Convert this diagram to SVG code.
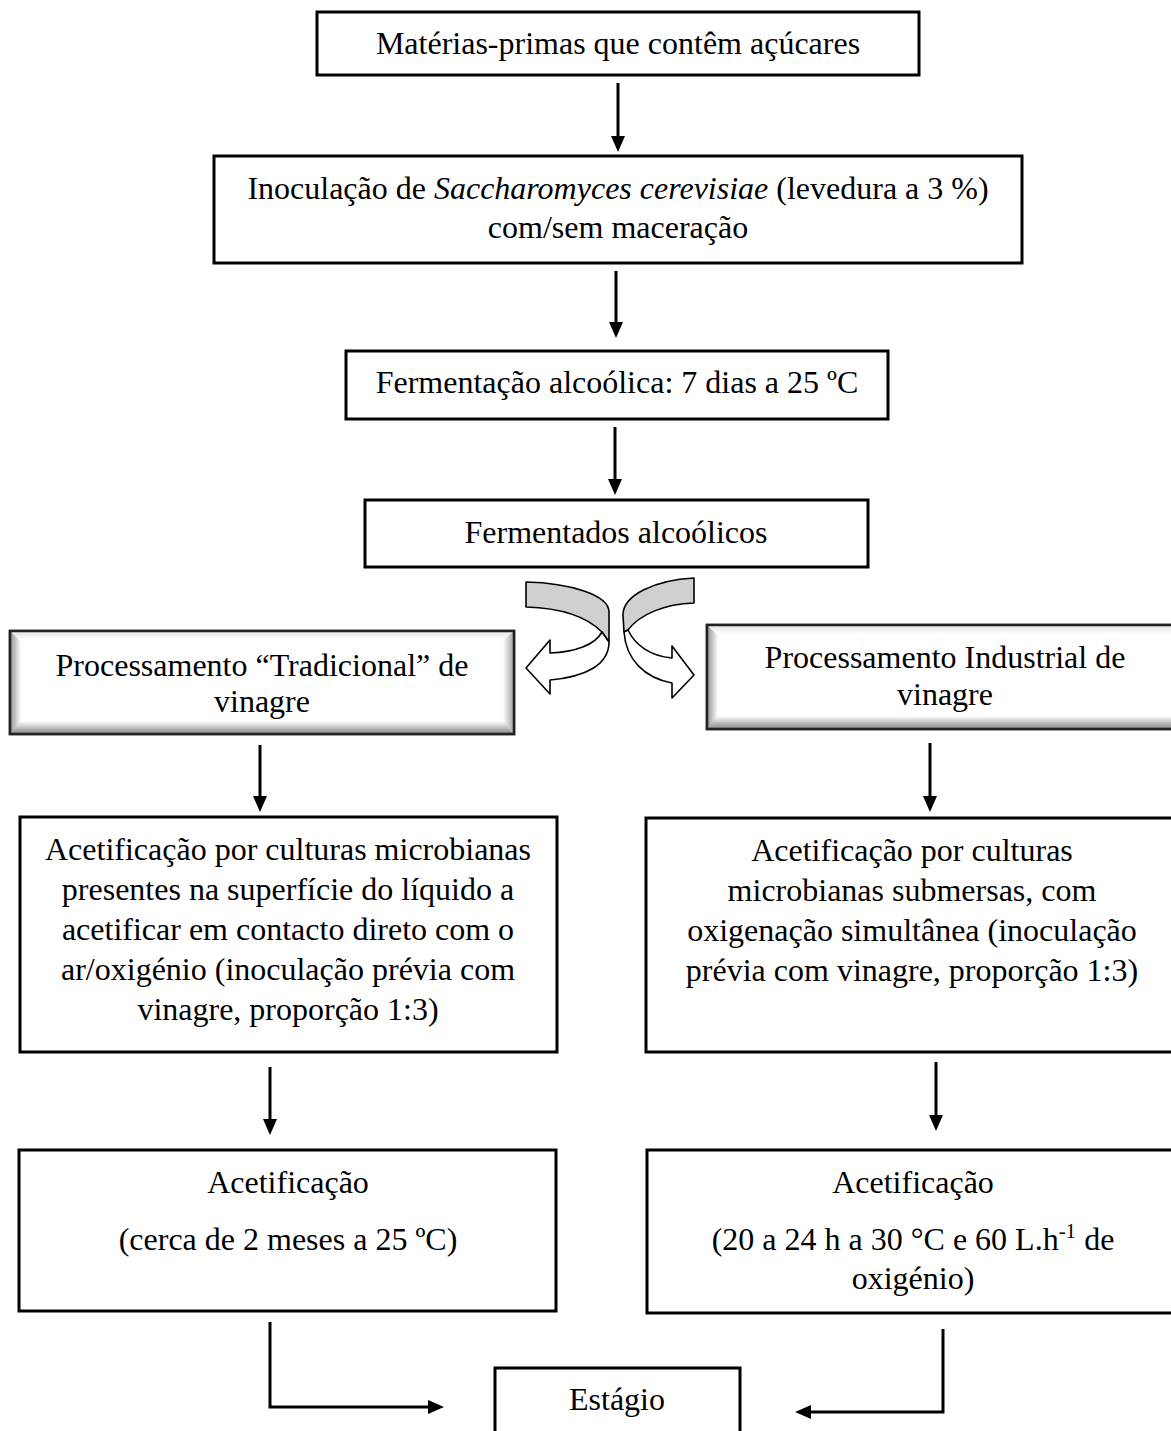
<svg xmlns="http://www.w3.org/2000/svg" width="1171" height="1431" viewBox="0 0 1171 1431">
<style>
.box{fill:#fff;stroke:#000;stroke-width:3}
.t{font-family:"Liberation Serif","Times New Roman",serif;font-size:32px;fill:#000;text-anchor:middle}
.ln{fill:none;stroke:#000;stroke-width:3}
.ca{stroke:#000;stroke-width:1.6;stroke-linejoin:round}
.bev{fill:#fff;stroke:#222;stroke-width:2.5}
</style>
<defs>
<marker id="ah" markerUnits="userSpaceOnUse" markerWidth="16" markerHeight="14" viewBox="0 0 16 14" refX="0" refY="7" orient="auto">
<path d="M0,0 L16,7 L0,14 Z" fill="#000"/>
</marker>
<linearGradient id="gL" x1="0" y1="0" x2="1" y2="0"><stop offset="0" stop-color="#9a9a9a"/><stop offset="1" stop-color="#fff"/></linearGradient>
<linearGradient id="gR" x1="0" y1="0" x2="1" y2="0"><stop offset="0" stop-color="#fff"/><stop offset="1" stop-color="#a8a8a8"/></linearGradient>
<linearGradient id="gB" x1="0" y1="0" x2="0" y2="1"><stop offset="0" stop-color="#fff"/><stop offset="1" stop-color="#8e8e8e"/></linearGradient>
<linearGradient id="gT" x1="0" y1="0" x2="0" y2="1"><stop offset="0" stop-color="#e6e6e6"/><stop offset="1" stop-color="#fff"/></linearGradient>
</defs>
<rect width="1171" height="1431" fill="#fff"/>

<g id="n1">
<rect class="box" x="317" y="12" width="602" height="63"/>
<text class="t" x="618" y="54">Matérias-primas que contêm açúcares</text>
</g>
<g id="n2">
<rect class="box" x="214" y="156" width="808" height="107"/>
<text class="t" x="618" y="199">Inoculação de <tspan font-style="italic">Saccharomyces cerevisiae</tspan> (levedura a 3 %)</text>
<text class="t" x="618" y="238">com/sem maceração</text>
</g>
<g id="n3">
<rect class="box" x="346" y="351" width="542" height="68"/>
<text class="t" x="617" y="393">Fermentação alcoólica: 7 dias a 25 ºC</text>
</g>
<g id="n4">
<rect class="box" x="365" y="500" width="503" height="67"/>
<text class="t" x="616" y="543">Fermentados alcoólicos</text>
</g>
<g id="n5">
<rect class="bev" x="10" y="631" width="504" height="103"/>
<polygon points="11,632 21,641 21,724 11,733" fill="url(#gL)"/>
<polygon points="11,632 513,632 503,640 21,640" fill="url(#gT)"/>
<polygon points="513,632 513,733 503,723 503,640" fill="url(#gR)"/>
<polygon points="11,733 21,721 503,721 513,733" fill="url(#gB)"/>
<rect x="10" y="631" width="504" height="103" fill="none" stroke="#222" stroke-width="2.5"/>
<text class="t" x="262" y="676">Processamento “Tradicional” de</text>
<text class="t" x="262" y="712">vinagre</text>
</g>
<g id="n6">
<rect class="bev" x="707" y="625" width="480" height="104"/>
<polygon points="708,626 718,635 718,718 708,728" fill="url(#gL)"/>
<polygon points="708,626 1186,626 1176,634 718,634" fill="url(#gT)"/>
<polygon points="708,728 718,716 1176,716 1186,728" fill="url(#gB)"/>
<rect x="707" y="625" width="480" height="104" fill="none" stroke="#222" stroke-width="2.5"/>
<text class="t" x="945" y="668">Processamento Industrial de</text>
<text class="t" x="945" y="705">vinagre</text>
</g>
<g id="n7">
<rect class="box" x="20" y="817" width="537" height="235"/>
<text class="t" x="288" y="860">Acetificação por culturas microbianas</text>
<text class="t" x="288" y="900">presentes na superfície do líquido a</text>
<text class="t" x="288" y="940">acetificar em contacto direto com o</text>
<text class="t" x="288" y="980">ar/oxigénio (inoculação prévia com</text>
<text class="t" x="288" y="1020">vinagre, proporção 1:3)</text>
</g>
<g id="n8">
<rect class="box" x="646" y="818" width="540" height="234"/>
<text class="t" x="912" y="861">Acetificação por culturas</text>
<text class="t" x="912" y="901">microbianas submersas, com</text>
<text class="t" x="912" y="941">oxigenação simultânea (inoculação</text>
<text class="t" x="912" y="981">prévia com vinagre, proporção 1:3)</text>
</g>
<g id="n9">
<rect class="box" x="19" y="1150" width="537" height="161"/>
<text class="t" x="288" y="1193">Acetificação</text>
<text class="t" x="288" y="1250">(cerca de 2 meses a 25 ºC)</text>
</g>
<g id="n10">
<rect class="box" x="647" y="1150" width="540" height="163"/>
<text class="t" x="913" y="1193">Acetificação</text>
<text class="t" x="913" y="1250">(20 a 24 h a 30 °C e 60 L.h<tspan font-size="21" dy="-12">-1</tspan><tspan dy="12"> de</tspan></text>
<text class="t" x="913" y="1289">oxigénio)</text>
</g>
<g id="n11">
<rect class="box" x="495" y="1368" width="245" height="80"/>
<text class="t" x="617" y="1410">Estágio</text>
</g>

<g id="connectors">
<line class="ln" x1="618" y1="83" x2="618" y2="136" marker-end="url(#ah)"/>
<line class="ln" x1="616" y1="271" x2="616" y2="322" marker-end="url(#ah)"/>
<line class="ln" x1="615" y1="427" x2="615" y2="479" marker-end="url(#ah)"/>
<line class="ln" x1="260" y1="745" x2="260" y2="796" marker-end="url(#ah)"/>
<line class="ln" x1="930" y1="743" x2="930" y2="796" marker-end="url(#ah)"/>
<line class="ln" x1="270" y1="1067" x2="270" y2="1119" marker-end="url(#ah)"/>
<line class="ln" x1="936" y1="1062" x2="936" y2="1115" marker-end="url(#ah)"/>
<polyline class="ln" points="270,1322 270,1407 428,1407" marker-end="url(#ah)"/>
<polyline class="ln" points="943,1329 943,1412 811,1412" marker-end="url(#ah)"/>
<g id="curved-left">
<path class="ca" fill="#d0d0d0" d="M526,582 C570,583 609,595 609,612 L609,642 L602,632 C585,615 560,608 526,607 Z"/>
<path class="ca" fill="#fff" d="M602,632 L609,642 C609,665 585,677 550,680 L550,694 L526,668 L550,640 L550,653 C575,652 595,645 602,632 Z"/>
</g>
<g id="curved-right">
<path class="ca" fill="#d0d0d0" d="M694,578 C655,580 623,595 623,615 L624,632 L628,630 C640,614 665,604 694,603 Z"/>
<path class="ca" fill="#fff" d="M624,632 C626,660 645,678 672,683 L672,698 L694,675 L672,646 L672,658 C650,656 635,645 628,630 Z"/>
</g>
</g>
</svg>
